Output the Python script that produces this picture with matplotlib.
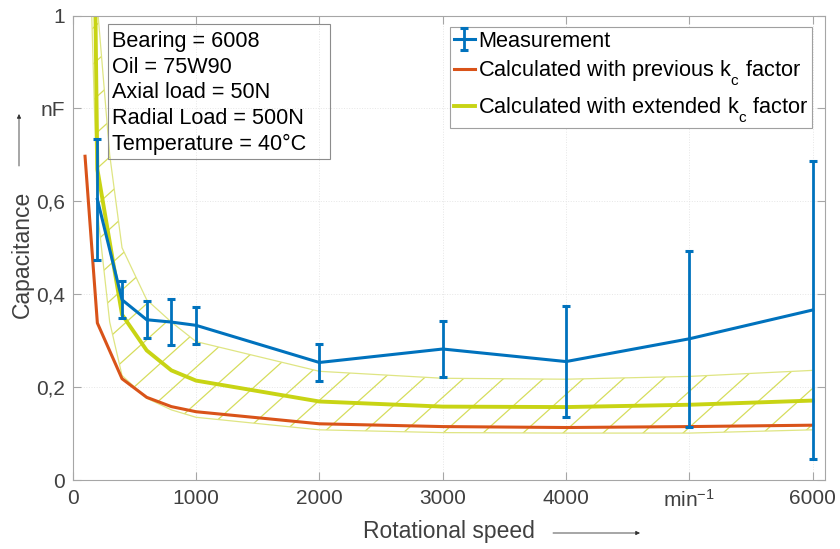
import numpy as np
import matplotlib
matplotlib.use("Agg")
import matplotlib.pyplot as plt
from matplotlib.collections import LineCollection
from matplotlib.patches import Rectangle
import matplotlib._mathtext as _mt

plt.rcParams['font.family'] = ['Liberation Sans', 'DejaVu Sans']
plt.rcParams['mathtext.fontset'] = 'custom'
plt.rcParams['mathtext.rm'] = 'Liberation Sans'
plt.rcParams['mathtext.it'] = 'Liberation Sans:italic'
plt.rcParams['mathtext.default'] = 'regular'
# deeper subscripts (MATLAB-like k_c)
try:
    _mt.FontConstantsBase.sub1 = 0.8
except Exception:
    pass

# ---------------- data ----------------
speed_meas = [200, 400, 600, 800, 1000, 2000, 3000, 4000, 5000, 6000]
cap_meas = [0.604, 0.388, 0.345, 0.340, 0.333, 0.253, 0.282, 0.255, 0.304, 0.366]
cap_err = [0.13, 0.04, 0.04, 0.05, 0.04, 0.04, 0.06, 0.12, 0.19, 0.32]

speed_calc = [100, 200, 400, 600, 800, 1000, 2000, 3000, 4000, 5000, 6000]
cap_prev = [0.697, 0.338, 0.218, 0.178, 0.158, 0.147, 0.121, 0.115, 0.113, 0.115, 0.118]
cap_ext = [2.8, 0.669, 0.356, 0.279, 0.236, 0.214, 0.169, 0.158, 0.157, 0.162, 0.171]

speed_band = [100, 200, 300, 400, 600, 800, 1000, 2000, 3000, 4000, 5000, 6000]
band_low = [1.5, 0.58, 0.34, 0.225, 0.176, 0.151, 0.135, 0.108, 0.102, 0.101, 0.101, 0.108]
band_high = [4.0, 1.02, 0.70, 0.50, 0.388, 0.34, 0.298, 0.234, 0.219, 0.217, 0.223, 0.236]

xticks = [0, 1000, 2000, 3000, 4000, 5000, 6000]
xticklabels = ['0', '1000', '2000', '3000', '4000', 'min$^{-1}$', '6000']
yticks = [0, 0.2, 0.4, 0.6, 0.8, 1.0]
yticklabels = ['0', '0,2', '0,4', '0,6', 'nF', '1']

info_lines = ['Bearing = 6008', 'Oil = 75W90', 'Axial load = 50N',
              'Radial Load = 500N', 'Temperature = 40°C']
legend_labels = ['Measurement', 'Calculated with previous k$_c$ factor',
                 'Calculated with extended k$_c$ factor']

# ---------------- style ----------------
FW, FH = 840, 549
BLUE = '#0072BD'
RED = '#D95319'
YEL = '#c8d414'
HATCH = '#d6dd5c'
EDGE = '#dfe583'
SPINE = '#a6a6a6'
LABEL = '#404040'

fig = plt.figure(figsize=(FW / 100, FH / 100), dpi=100)
ax_l, ax_r, ax_t, ax_b = 72.7, 825.0, 15.5, 480.0
ax = fig.add_axes([ax_l / FW, 1 - ax_b / FH, (ax_r - ax_l) / FW, (ax_b - ax_t) / FH])

def fx(px):
    return px / FW

def fy(py):
    return 1 - py / FH

# hatched band
poly = ax.fill_between(speed_band, band_low, band_high, facecolor='none',
                       edgecolor='none', zorder=1)
W = ax_r - ax_l
H = ax_b - ax_t
slope = 0.9 * W / H
step = 40.0 / W
segs = []
for c in np.arange(-0.8, 1.05, step):
    segs.append([(c, 0.0), (c + 1.2, 1.2 * slope)])
lc = LineCollection(segs, colors=HATCH, linewidths=0.9, transform=ax.transAxes, zorder=1)
lc.set_clip_path(poly.get_paths()[0], ax.transData)
lc.set_clip_box(ax.bbox)
ax.add_collection(lc, autolim=False)
ax.plot(speed_band, band_low, color=EDGE, lw=0.9, zorder=1.5)
ax.plot(speed_band, band_high, color=EDGE, lw=0.9, zorder=1.5)

h_ext, = ax.plot(speed_calc, cap_ext, color=YEL, lw=2.8, zorder=2, solid_joinstyle='miter')
h_prev, = ax.plot(speed_calc, cap_prev, color=RED, lw=2.2, zorder=3)
h_meas = ax.errorbar(speed_meas, cap_meas, yerr=cap_err, color=BLUE, lw=2.2,
                     elinewidth=2.0, capsize=3, capthick=2.2, zorder=5)

ax.set_xlim(0, 6100)
ax.set_ylim(0, 1)
ax.set_xticks(xticks)
ax.set_xticklabels(xticklabels)
ax.set_yticks(yticks)
ax.set_yticklabels(yticklabels)
ax.tick_params(axis='both', direction='in', length=5.8, width=0.8, color=SPINE,
               labelcolor=LABEL, labelsize=15, top=True, right=True)
ax.tick_params(axis='x', pad=6.5)
ax.tick_params(axis='y', pad=5.5)
for s in ax.spines.values():
    s.set_color(SPINE)
    s.set_linewidth(0.8)
ax.grid(True, color='#e6e6e6', ls=':', lw=0.7)
ax.set_axisbelow(True)

# axis labels with arrows
fig.text(fx(449), fy(538), 'Rotational speed', ha='center', va='baseline',
         fontsize=16.5, color=LABEL)
fig.text(fx(29), fy(254), 'Capacitance', rotation=90, rotation_mode='anchor',
         ha='center', va='baseline', fontsize=16.5, color=LABEL)
ax.annotate('', xy=(fx(640), fy(533)), xytext=(fx(553), fy(533)),
            xycoords='figure fraction', textcoords='figure fraction',
            annotation_clip=False,
            arrowprops=dict(arrowstyle='-|>', lw=0.6, color='#303030',
                            mutation_scale=6, shrinkA=0, shrinkB=0))
ax.annotate('', xy=(fx(19), fy(114)), xytext=(fx(19), fy(166)),
            xycoords='figure fraction', textcoords='figure fraction',
            annotation_clip=False,
            arrowprops=dict(arrowstyle='-|>', lw=0.6, color='#303030',
                            mutation_scale=6, shrinkA=0, shrinkB=0))

# info box
bx0, by0, bx1, by1 = 107.7, 24.3, 330.0, 159.3
rect = Rectangle((fx(bx0), fy(by1)), (bx1 - bx0) / FW, (by1 - by0) / FH,
                 transform=fig.transFigure, facecolor='none', edgecolor='#8c8c8c',
                 lw=0.8, zorder=10)
fig.add_artist(rect)
baselines = [46.7, 72.6, 98.5, 124.3, 150.0]
for line, bl in zip(info_lines, baselines):
    fig.text(fx(111.7), fy(bl), line, ha='left', va='baseline', fontsize=15.6,
             color='black', zorder=11)

# legend
leg = ax.legend([h_meas, h_prev, h_ext], legend_labels, loc='upper right',
                bbox_to_anchor=(fx(811.7), fy(27.3)), bbox_transform=fig.transFigure,
                borderaxespad=0, fontsize=15.7, handlelength=1.0, handletextpad=0.12,
                borderpad=0.15, labelspacing=0.33, fancybox=False, framealpha=1,
                edgecolor='#a0a0a0')
leg.get_frame().set_linewidth(0.8)
leg.set_zorder(20)

fig.savefig('out.png', dpi=100)
